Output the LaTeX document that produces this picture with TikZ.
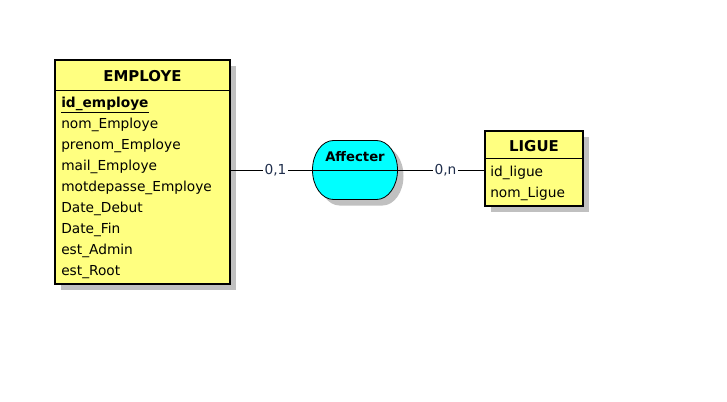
\documentclass[tikz,border=0pt]{standalone}
\usepackage{fontspec}
\setmainfont{DejaVu Sans}
\usetikzlibrary{shadows}
\definecolor{entyellow}{RGB}{255,255,128}
\definecolor{assocyan}{RGB}{0,255,255}
\definecolor{shadowgray}{RGB}{192,192,192}
\definecolor{cardcol}{RGB}{30,45,75}
\tikzset{
  myshadow/.style={drop shadow={shadow xshift=4.5pt,shadow yshift=-4.5pt,fill=shadowgray,opacity=1}},
  entity/.style={draw=black,line width=0.8pt,fill=entyellow,inner sep=0pt,myshadow},
  assocshape/.style={draw=black,line width=0.6pt,fill=assocyan,myshadow},
  title/.style={font=\fontsize{11.2}{13}\selectfont\bfseries,inner sep=0pt,anchor=base},
  atitle/.style={font=\fontsize{9.9}{12}\selectfont\bfseries,inner sep=0pt,anchor=base},
  attr/.style={font=\fontsize{10.3}{12}\selectfont,inner sep=0pt,anchor=base west},
  card/.style={font=\fontsize{10.3}{12}\selectfont,text=cardcol,fill=white,inner sep=1pt,anchor=base},
  link/.style={draw=black,line width=0.6pt},
}
\begin{document}
\begin{tikzpicture}[x=0.75pt,y=-0.75pt]
\useasboundingbox (0,0) rectangle (727,401);
% EMPLOYE
\node[entity,minimum width=131.25pt,minimum height=168pt] (emp) at (142.5,172) {};
\draw[line width=0.6pt] (55,90) -- (230,90);
\node[title] (empt) at (142.5,81.5) {EMPLOYE};
\node[attr,font=\fontsize{10.3}{12}\selectfont\bfseries] (a1) at (61,107) {\underline{id\_employe}};
\node[attr] (a2) at (61,128) {nom\_Employe};
\node[attr] (a3) at (61,149) {prenom\_Employe};
\node[attr] (a4) at (61,170) {mail\_Employe};
\node[attr] (a5) at (61,191) {motdepasse\_Employe};
\node[attr] (a6) at (61,212) {Date\_Debut};
\node[attr] (a7) at (61,233) {Date\_Fin};
\node[attr] (a8) at (61,254) {est\_Admin};
\node[attr] (a9) at (61,275) {est\_Root};
% LIGUE
\node[entity,minimum width=73.5pt,minimum height=56.25pt] (lig) at (534,168.5) {};
\draw[line width=0.6pt] (485,158) -- (583,158);
\node[title] (ligt) at (534,151.5) {LIGUE};
\node[attr] (b1) at (490,176) {id\_ligue};
\node[attr] (b2) at (490,197) {nom\_Ligue};
% Affecter
\path[assocshape] (333.5,140.5) -- (376.5,140.5)
  arc[start angle=90,end angle=-90,x radius=15.75pt,y radius=22.125pt] -- (333.5,199.5)
  arc[start angle=270,end angle=90,x radius=15.75pt,y radius=22.125pt] -- cycle;
\node[minimum width=63.75pt,minimum height=44.25pt,inner sep=0pt] (aff) at (355,170) {};
\draw[line width=0.6pt] (aff.west) -- (aff.east);
\node[atitle] (afft) at (355,161) {Affecter};
% links
\coordinate (e1) at (emp.east |- aff.west);
\coordinate (l1) at (lig.west |- aff.east);
\draw[link] (e1) -- (aff.west) node[card,pos=0.55,yshift=-3.2pt] (c1) {0,1};
\draw[link] (aff.east) -- (l1) node[card,pos=0.55,yshift=-3.2pt] (c2) {0,n};
\end{tikzpicture}
\end{document}
